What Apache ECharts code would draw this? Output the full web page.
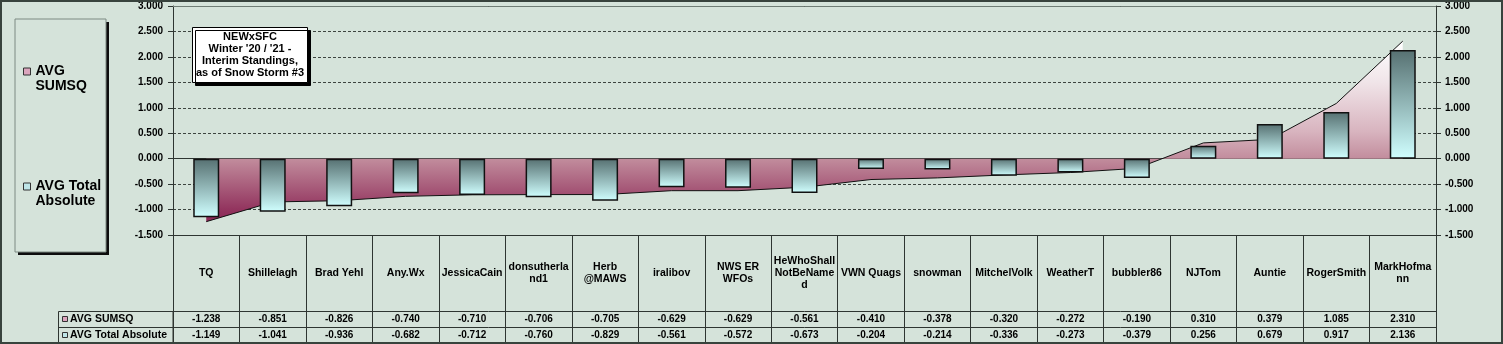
<!DOCTYPE html>
<html>
<head>
<meta charset="utf-8">
<script src="https://cdn.jsdelivr.net/npm/echarts@6/dist/echarts.min.js"></script>
<style>
  html, body { margin: 0; padding: 0; background: #d5e3da; }
  #chart { width: 1503px; height: 344px; }
</style>
</head>
<body>
<div id="chart"></div>
<script>
// Forecasters (wrapped as they appear in the table header)
const categories = [
  'TQ', 'Shillelagh', 'Brad Yehl', 'Any.Wx', 'JessicaCain', 'donsutherla\nnd1',
  'Herb\n@MAWS', 'iralibov', 'NWS ER\nWFOs', 'HeWhoShall\nNotBeName\nd',
  'VWN Quags', 'snowman', 'MitchelVolk', 'WeatherT', 'bubbler86', 'NJTom',
  'Auntie', 'RogerSmith', 'MarkHofma\nnn'
];
const avgSumsq = [
  -1.238, -0.851, -0.826, -0.740, -0.710, -0.706, -0.705, -0.629, -0.629, -0.561,
  -0.410, -0.378, -0.320, -0.272, -0.190, 0.310, 0.379, 1.085, 2.310
];
const avgTotalAbsolute = [
  -1.149, -1.041, -0.936, -0.682, -0.712, -0.760, -0.829, -0.561, -0.572, -0.673,
  -0.204, -0.214, -0.336, -0.273, -0.379, 0.256, 0.679, 0.917, 2.136
];
const seriesNames = ['AVG SUMSQ', 'AVG Total Absolute'];
// leading blank line keeps the key square level with the first text line
const legendLabels = { 'AVG SUMSQ': '\nAVG\nSUMSQ', 'AVG Total Absolute': '\nAVG Total\nAbsolute' };
const yMin = -1.5, yMax = 3.0, yStep = 0.5;
const titleText = "NEWxSFC\nWinter '20 / '21 -\nInterim Standings,\nas of Snow Storm #3";

const FONT = 'Arial, "Liberation Sans", sans-serif';
const pinkKey = '#dba5bd';
const cyanKey = '#bfe6e8';
const lineCol = '#2e3531';

const chart = echarts.init(document.getElementById('chart'), null, { renderer: 'canvas' });

const valueAxisLabel = {
  fontFamily: FONT, fontSize: 10, fontWeight: 'bold', color: '#000',
  formatter: v => v.toFixed(3)
};

// Shared pieces for the stacked category axes that form the data table
function tableAxis(offset, extra) {
  return Object.assign({
    type: 'category', data: categories, position: 'bottom', offset: offset,
    axisLine: { show: true, onZero: false, lineStyle: { color: lineCol, width: 1 } },
    axisTick: { show: false },
    splitLine: { show: false }
  }, extra);
}

const option = {
  backgroundColor: '#d5e3da',
  animation: false,
  textStyle: { fontFamily: FONT },
  title: {
    text: titleText,
    left: 246, top: 27,
    textAlign: 'center',
    padding: [4, 4, 4, 4],
    backgroundColor: '#ffffff',
    borderColor: '#000', borderWidth: 1,
    shadowColor: '#000', shadowBlur: 0, shadowOffsetX: 3, shadowOffsetY: 3,
    textStyle: { fontFamily: FONT, fontSize: 11, fontWeight: 'bold', lineHeight: 12, color: '#000' }
  },
  legend: {
    orient: 'vertical', left: 23, top: 49, padding: 0, itemGap: 70,
    itemWidth: 7, itemHeight: 7, selectedMode: false,
    data: [
      { name: seriesNames[0], icon: 'rect', itemStyle: { color: pinkKey, borderColor: '#333', borderWidth: 1 } },
      { name: seriesNames[1], icon: 'rect', itemStyle: { color: cyanKey, borderColor: '#333', borderWidth: 1 } }
    ],
    formatter: name => legendLabels[name],
    textStyle: { fontFamily: FONT, fontSize: 14, fontWeight: 'bold', lineHeight: 15, color: '#000' }
  },
  grid: { left: 173, right: 67, top: 6, bottom: 109, outerBoundsMode: 'none' },
  xAxis: [
    // zero baseline carrying both series
    {
      type: 'category', data: categories,
      axisLine: { show: true, onZero: true, lineStyle: { color: lineCol, width: 1.2 } },
      axisTick: { show: false }, axisLabel: { show: false }, splitLine: { show: false }
    },
    // plot-area top edge
    {
      type: 'category', data: categories, position: 'top',
      axisLine: { show: true, onZero: false, lineStyle: { color: '#6f7d75', width: 1 } },
      axisTick: { show: false }, axisLabel: { show: false }, splitLine: { show: false }
    },
    // table header: category names and column rules
    tableAxis(0, {
      axisTick: { show: true, interval: 0, alignWithLabel: false, length: 108, lineStyle: { color: lineCol, width: 1 } },
      axisLabel: {
        interval: 0, margin: 38, verticalAlign: 'middle', align: 'center',
        fontFamily: FONT, fontSize: 10.5, fontWeight: 'bold', lineHeight: 12, color: '#000'
      }
    }),
    // table row: AVG SUMSQ
    tableAxis(76, {
      axisLabel: {
        interval: 0, margin: 8, verticalAlign: 'middle',
        fontFamily: FONT, fontSize: 10, fontWeight: 'bold', color: '#000',
        formatter: (v, i) => avgSumsq[i].toFixed(3)
      }
    }),
    // table row: AVG Total Absolute
    tableAxis(92, {
      axisLabel: {
        interval: 0, margin: 8, verticalAlign: 'middle',
        fontFamily: FONT, fontSize: 10, fontWeight: 'bold', color: '#000',
        formatter: (v, i) => avgTotalAbsolute[i].toFixed(3)
      }
    })
  ],
  yAxis: [
    {
      type: 'value', position: 'left', min: yMin, max: yMax, interval: yStep,
      axisLine: { show: true, lineStyle: { color: lineCol, width: 1 } },
      axisTick: { show: true, length: 5, lineStyle: { color: lineCol } },
      axisLabel: Object.assign({ margin: 10 }, valueAxisLabel),
      splitLine: { show: true, lineStyle: { color: '#3d4540', width: 1, type: [3, 2] } }
    },
    {
      type: 'value', position: 'right', min: yMin, max: yMax, interval: yStep,
      axisLine: { show: true, lineStyle: { color: lineCol, width: 1 } },
      axisTick: { show: true, length: 5, lineStyle: { color: lineCol } },
      axisLabel: Object.assign({ margin: 9 }, valueAxisLabel),
      splitLine: { show: false }
    }
  ],
  series: [
    {
      name: seriesNames[0], type: 'line', data: avgSumsq,
      xAxisIndex: 0, yAxisIndex: 0,
      showSymbol: false, symbol: 'none',
      lineStyle: { color: '#111', width: 1 },
      itemStyle: { color: pinkKey },
      areaStyle: {
        origin: 0, opacity: 1,
        color: new echarts.graphic.LinearGradient(0, 0, 0, 1, [
          { offset: 0, color: '#ffffff' },
          { offset: 0.23, color: '#f0e4e8' },
          { offset: 0.5, color: '#d8b4bf' },
          { offset: 0.65, color: '#c28d9d' },
          { offset: 0.93, color: '#93355f' },
          { offset: 1, color: '#8a2656' }
        ])
      },
      z: 2
    },
    {
      name: seriesNames[1], type: 'bar', data: avgTotalAbsolute,
      xAxisIndex: 0, yAxisIndex: 0,
      barWidth: 26,
      itemStyle: {
        borderColor: '#111', borderWidth: 1.5,
        color: new echarts.graphic.LinearGradient(0, 0, 0, 1, [
          { offset: 0, color: '#567071' },
          { offset: 1, color: '#d0ffff' }
        ])
      },
      z: 3
    }
  ],
  graphic: [
    // legend panel with drop shadow
    { type: 'rect', z: 0, shape: { x: 18, y: 22, width: 91, height: 233 }, style: { fill: '#0d0d0d' } },
    { type: 'rect', z: 0, shape: { x: 15, y: 19, width: 91, height: 233 }, style: { fill: '#d5e3da', stroke: '#7d8a83', lineWidth: 1 } },
    // row headers of the data table
    { type: 'rect', z: 1, shape: { x: 58.5, y: 311.5, width: 114.5, height: 31 }, style: { fill: 'none', stroke: lineCol, lineWidth: 1 } },
    { type: 'line', z: 1, shape: { x1: 58.5, y1: 327.5, x2: 173, y2: 327.5 }, style: { stroke: lineCol, lineWidth: 1 } },
    { type: 'rect', z: 1, shape: { x: 62.5, y: 316.5, width: 5, height: 5 }, style: { fill: pinkKey, stroke: '#333', lineWidth: 1 } },
    { type: 'rect', z: 1, shape: { x: 62.5, y: 332.5, width: 5, height: 5 }, style: { fill: cyanKey, stroke: '#333', lineWidth: 1 } },
    { type: 'text', z: 1, x: 70, y: 319.5, style: { text: seriesNames[0], font: 'bold 10.5px ' + FONT, fill: '#000', verticalAlign: 'middle' } },
    { type: 'text', z: 1, x: 70, y: 335.5, style: { text: seriesNames[1], font: 'bold 10.5px ' + FONT, fill: '#000', verticalAlign: 'middle' } },
    // outer frame
    { type: 'rect', z: 10, shape: { x: 1, y: 1, width: 1501, height: 342 }, style: { fill: 'none', stroke: '#38433d', lineWidth: 2 } }
  ]
};

chart.setOption(option);
</script>
</body>
</html>
